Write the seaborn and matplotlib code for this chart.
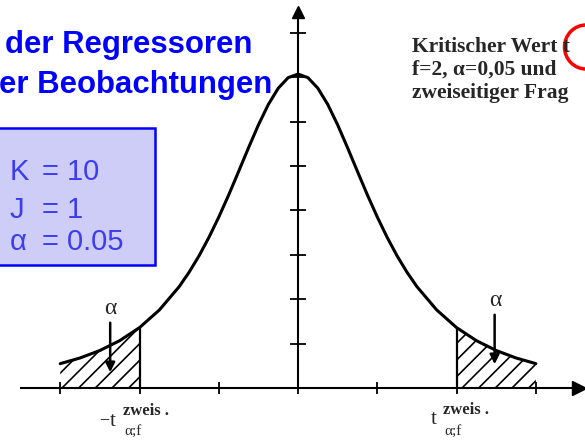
import numpy as np
import pandas as pd
import matplotlib
matplotlib.use('Agg')
import matplotlib.pyplot as plt
from matplotlib.patches import Ellipse, Rectangle
import seaborn as sns

# Dichte der t-Verteilung (f=2)
t_values = [-3.0, -2.75, -2.5, -2.25, -2.0, -1.75,
            -1.5, -1.375, -1.25, -1.125, -1.0, -0.875, -0.75, -0.625, -0.5, -0.375, -0.25, -0.125, 0.0,
            0.125, 0.25, 0.375, 0.5, 0.625, 0.75, 0.875, 1.0, 1.125, 1.25, 1.375, 1.5,
            1.75, 2.0, 2.25, 2.5, 2.75, 3.0]
density = [0.0274, 0.0338, 0.0422, 0.0533, 0.0680, 0.0878,
           0.1141, 0.1303, 0.1487, 0.1695, 0.1925, 0.2174, 0.2438, 0.2705, 0.2963, 0.3193, 0.3376, 0.3495, 0.3536,
           0.3495, 0.3376, 0.3193, 0.2963, 0.2705, 0.2438, 0.2174, 0.1925, 0.1695, 0.1487, 0.1303, 0.1141,
           0.0878, 0.0680, 0.0533, 0.0422, 0.0338, 0.0274]
t_crit = 2.0
x_ticks = [-3, -2, -1, 0, 1, 2, 3]
y_ticks = [0.05, 0.10, 0.15, 0.20, 0.25, 0.30, 0.35, 0.40]

header_lines = ['der Regressoren', 'er Beobachtungen']
param_names = ['K', 'J', 'α']
param_values = ['10', '1', '0.05']
note_lines = ['Kritischer Wert t', 'f=2, α=0,05 und', 'zweiseitiger Frag']

df = pd.DataFrame({'t': t_values, 'dichte': density})
left_tail = df[df['t'] <= -t_crit]
right_tail = df[df['t'] >= t_crit]

sns.set_theme(style='white')
plt.rcParams['hatch.linewidth'] = 1.2

W, H = 585, 440
fig = plt.figure(figsize=(W / 100, H / 100), dpi=100)
ax = fig.add_axes([0, 0, 1, 1])
ax.set_xlim(-3.76, 3.62)
ax.set_ylim(-0.0586, 0.437)


def px(x, y):
    # Pixelposition -> Figurkoordinaten
    return x / W, 1 - y / H


# Kurve
sns.lineplot(data=df, x='t', y='dichte', color='black', linewidth=2.2, ax=ax)

# schraffierte Flaechen
for tail in [left_tail, right_tail]:
    ax.fill_between(tail['t'], tail['dichte'], 0, facecolor='none', edgecolor='black', hatch='//', linewidth=0)
ax.plot([-t_crit, -t_crit], [0, left_tail['dichte'].iloc[-1]], color='black', lw=1.6)
ax.plot([t_crit, t_crit], [0, right_tail['dichte'].iloc[0]], color='black', lw=1.6)

# Achsen durch den Ursprung
for s in ['top', 'right']:
    ax.spines[s].set_visible(False)
for s in ['left', 'bottom']:
    ax.spines[s].set_position(('data', 0))
    ax.spines[s].set_color('black')
    ax.spines[s].set_linewidth(1.5)
ax.spines['left'].set_bounds(0, 0.42)
ax.spines['bottom'].set_bounds(-3.5, 3.5)
ax.set_xticks(x_ticks)
ax.set_yticks(y_ticks)
ax.tick_params(axis='x', bottom=True, direction='inout', length=9, width=1.3, color='black', labelbottom=False)
ax.tick_params(axis='y', left=True, direction='inout', length=11, width=1.3, color='black', labelleft=False)
ax.set_xlabel('')
ax.set_ylabel('')
ax.plot([3.55], [0], marker='>', ms=10, color='black', clip_on=False)
ax.plot([0], [0.423], marker='^', ms=9, color='black', clip_on=False)

# Alpha-Pfeile
ax.annotate('', xy=(-2.37, 0.0146), xytext=(-2.37, 0.0766),
            arrowprops=dict(arrowstyle='-|>', lw=1.8, color='black', mutation_scale=14))
ax.annotate('', xy=(2.48, 0.0236), xytext=(2.48, 0.0856),
            arrowprops=dict(arrowstyle='-|>', lw=1.8, color='black', mutation_scale=14))
serif = 'Liberation Serif'
fig.text(*px(110, 309), 'α', fontsize=17, family=serif, ha='center', va='center')
fig.text(*px(495, 300), 'α', fontsize=17, family=serif, ha='center', va='center')

# Beschriftung der kritischen Werte
fig.text(*px(99, 424), '−', fontsize=13, family=serif, va='baseline')
fig.text(*px(110, 426), 't', fontsize=15, family=serif, va='baseline')
fig.text(*px(123, 415), 'zweis .', fontsize=12, family=serif, va='baseline', fontweight='bold')
fig.text(*px(124, 435), 'α;f', fontsize=11, family=serif, va='baseline')
fig.text(*px(431, 424), 't', fontsize=15, family=serif, va='baseline')
fig.text(*px(443, 414), 'zweis .', fontsize=12, family=serif, va='baseline', fontweight='bold')
fig.text(*px(444, 435), 'α;f', fontsize=11, family=serif, va='baseline')

# blaue Ueberschrift
for txt, x, y in zip(header_lines, [5, -1], [53, 93]):
    fig.text(*px(x, y), txt, fontsize=22.4, family='Liberation Sans', fontweight='bold',
             color='#0000ff', va='baseline')

# Parameterkasten
box = Rectangle(px(-3, 265), 158 / W, 137 / H, transform=fig.transFigure,
                facecolor='#cdcdf8', edgecolor='#0000ff', lw=1.8)
fig.patches.append(box)
for name, val, y in zip(param_names, param_values, [180, 218, 250]):
    fig.text(*px(10, y), name, fontsize=21, family='Liberation Sans', color='#3c3cf0', va='baseline')
    fig.text(*px(42, y), '= ' + val, fontsize=21, family='Liberation Sans', color='#3c3cf0', va='baseline')

# Hinweis oben rechts
for txt, y in zip(note_lines, [52, 75, 98]):
    fig.text(*px(412, y), txt, fontsize=15.5, family=serif, fontweight='bold', va='baseline')
circle = Ellipse(px(586, 47), 43 / W, 44 / H, transform=fig.transFigure,
                 facecolor='none', edgecolor='#ff0000', lw=2.5)
fig.patches.append(circle)

fig.savefig('out.png', dpi=100)
